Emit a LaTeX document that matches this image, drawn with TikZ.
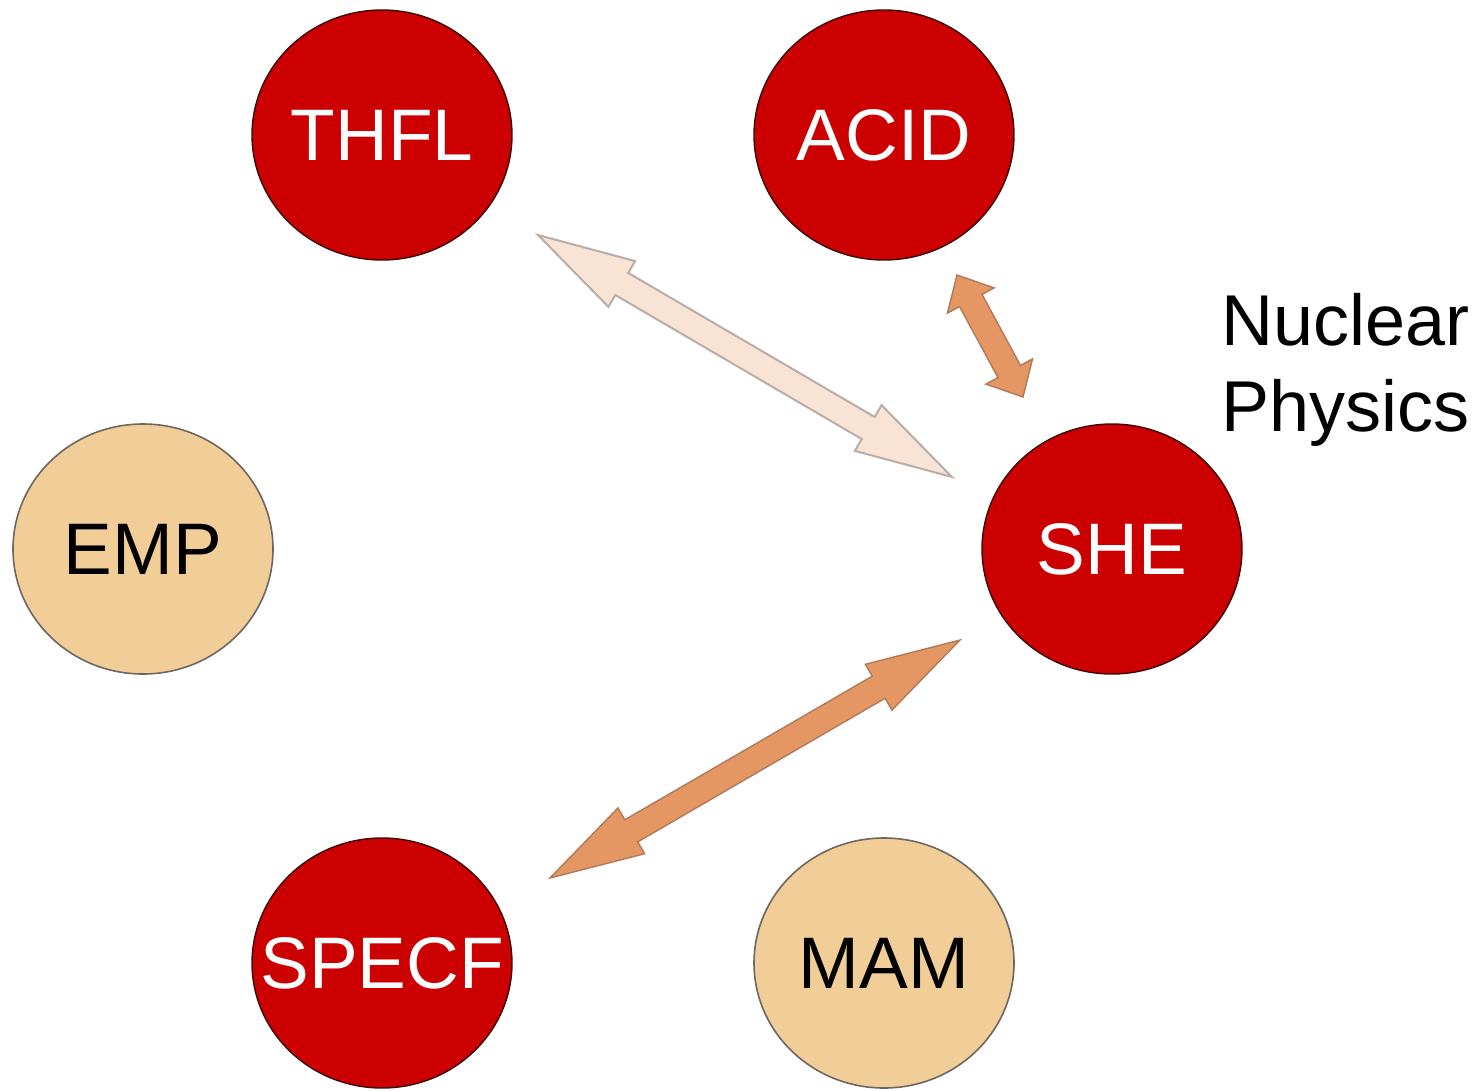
\documentclass[tikz,border=0pt]{standalone}
\usepackage{fontspec}
\setmainfont{Liberation Sans}
\usetikzlibrary{shapes.geometric,calc}

\definecolor{hotred}{HTML}{CC0000}
\definecolor{hotedge}{HTML}{3A0A0A}
\definecolor{sand}{HTML}{F1CD97}
\definecolor{sandedge}{HTML}{6E6660}
\definecolor{linkfill}{HTML}{E59763}
\definecolor{linkedge}{HTML}{B07A5A}
\definecolor{palefill}{HTML}{F8E3D5}
\definecolor{paleedge}{HTML}{B8ADA8}

% double-headed block arrow between two named points
% #1 style, #2 start, #3 end, #4 head length
\newcommand\blockarrow[4]{%
  \draw[#1] let \p1=(#2), \p2=(#3),
      \n1={atan2(\y2-\y1,\x2-\x1)},
      \n2={veclen(\x2-\x1,\y2-\y1)} in
    [shift={(\p1)}, rotate=\n1]
    (0pt,0pt) -- (#4pt,26.5pt) -- (#4pt,12.8pt) -- (\n2-#4pt,12.8pt)
    -- (\n2-#4pt,26.5pt) -- (\n2,0pt) -- (\n2-#4pt,-26.5pt)
    -- (\n2-#4pt,-12.8pt) -- (#4pt,-12.8pt) -- (#4pt,-26.5pt) -- cycle;}

\begin{document}
\begin{tikzpicture}[x=1pt,y=-1pt,
  bubble/.style={ellipse, minimum width=260pt, minimum height=250pt,
    inner sep=0pt, font=\fontsize{73}{88}\selectfont},
  hot/.style={bubble, fill=hotred, draw=hotedge, line width=1.4pt, text=white},
  cool/.style={bubble, fill=sand, draw=sandedge, line width=1.6pt, text=black},
  strong/.style={fill=linkfill, draw=linkedge, line width=1.4pt, line join=miter},
  faint/.style={fill=palefill, draw=paleedge, line width=2pt, line join=miter}]

\useasboundingbox (0,0) rectangle (1483,1090);

\node[hot]  (thfl)  at (382,135) {\makebox[0pt]{THFL}};
\node[hot]  (acid)  at (884,135) {\makebox[0pt]{ACID}};
\node[cool] (emp)   at (143,549) {\makebox[0pt]{EMP}};
\node[hot]  (she)   at (1112,549) {\makebox[0pt]{SHE}};
\node[hot]  (specf) at (382,963) {\makebox[0pt]{SPECF}};
\node[cool] (mam)   at (884,963) {\makebox[0pt]{MAM}};

\node[anchor=north west, inner sep=0pt, align=left,
      font=\fontsize{72}{86}\selectfont] (np) at (1221,293)
  {Nuclear\\Physics};

% arrow end points
\coordinate (thfltip)   at (538,235);
\coordinate (shetipA)   at (952,477);
\coordinate (acidtip)   at (957,275);
\coordinate (shetipB)   at (1023,397);
\coordinate (specftip)  at (550,878);
\coordinate (shetipC)   at (960,640);

\blockarrow{faint}{thfltip}{shetipA}{97}
\blockarrow{strong}{acidtip}{shetipB}{29}
\blockarrow{strong}{specftip}{shetipC}{94}

\end{tikzpicture}
\end{document}
